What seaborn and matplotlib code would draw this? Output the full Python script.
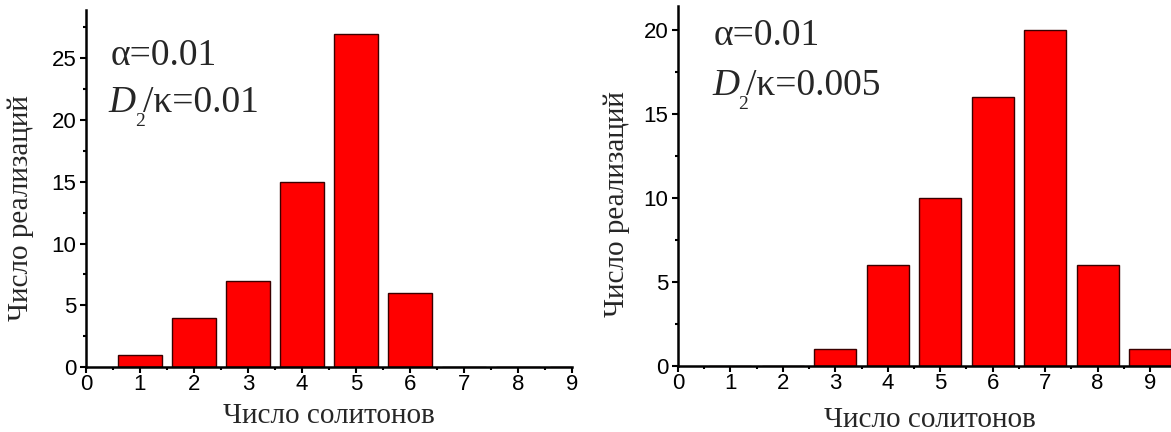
import numpy as np
import pandas as pd
import matplotlib
matplotlib.use("Agg")
import matplotlib.pyplot as plt
from matplotlib.ticker import MultipleLocator
import seaborn as sns

solitons = [1, 2, 3, 4, 5, 6, 7, 8, 9]
counts_left = [1, 4, 7, 15, 27, 6, 0, 0, 0]
counts_right = [0, 0, 1, 6, 10, 16, 20, 6, 1]
alpha_label = "α=0.01"
ratio_left = "/κ=0.01"
ratio_right = "/κ=0.005"

sns.set_style("ticks")
plt.rcParams["font.family"] = ["Liberation Sans", "DejaVu Sans"]

serif = ["Liberation Serif", "DejaVu Serif"]

fig = plt.figure(figsize=(11.71, 4.32), dpi=100)
ax1 = fig.add_axes([0.0734, 0.1505, 0.415, 0.826])
ax2 = fig.add_axes([0.579, 0.153, 0.421, 0.833])
renderer = fig.canvas.get_renderer()

panels = [
    (ax1, counts_left, ratio_left, (0, 9), (0, 28.9),
     (0.047, 0.846, 0.714), (-0.135, 0.445), (0.5, -0.137)),
    (ax2, counts_right, ratio_right, (0, 9.4), (0, 21.4),
     (0.069, 0.892, 0.753), (-0.125, 0.45), (0.51, -0.15)),
]


def d2_label(ax, x, y, rest):
    # italic D, lowered small 2, then the rest of the label
    t1 = ax.text(x, y, "D", transform=ax.transAxes, family=serif,
                 style="italic", fontsize=27, va="baseline", ha="left")
    bb = t1.get_window_extent(renderer)
    x0, y0 = ax.transAxes.transform((x, y))
    t2 = fig.text(bb.x1 - 1, y0 - 14, "2", transform=None, family=serif,
                  fontsize=14, va="baseline", ha="left")
    bb2 = t2.get_window_extent(renderer)
    fig.text(bb2.x1 - 2, y0, rest, transform=None, family=serif,
             fontsize=27, va="baseline", ha="left")


for ax, counts, rest, xlim, ylim, tpos, ylab, xlab in panels:
    df = pd.DataFrame({"n": solitons, "count": counts})
    sns.barplot(data=df, x="n", y="count", native_scale=True, ax=ax,
                color="#ff0000", saturation=1, edgecolor="#3a0000",
                linewidth=1.0, width=0.8)
    ax.set_xlim(*xlim)
    ax.set_ylim(*ylim)
    ax.xaxis.set_major_locator(MultipleLocator(1))
    ax.xaxis.set_minor_locator(MultipleLocator(0.5))
    ax.yaxis.set_major_locator(MultipleLocator(5))
    ax.yaxis.set_minor_locator(MultipleLocator(2.5))
    ax.tick_params(which="major", direction="out", length=4, width=1.5,
                   labelsize=16, color="black", labelcolor="black")
    ax.tick_params(axis="y", which="major", pad=3)
    ax.tick_params(axis="x", which="major", pad=1)
    ax.tick_params(which="minor", direction="out", length=2.5, width=1.5,
                   color="black")
    for side in ["top", "right"]:
        ax.spines[side].set_visible(False)
    for side in ["left", "bottom"]:
        ax.spines[side].set_linewidth(1.8)
        ax.spines[side].set_color("black")

    ax.set_xlabel("Число солитонов", family=serif, fontsize=21)
    ax.set_ylabel("Число реализаций", family=serif, fontsize=21)
    ax.xaxis.label.set_va("center")
    ax.yaxis.label.set_va("center")
    ax.xaxis.set_label_coords(*xlab)
    ax.yaxis.set_label_coords(*ylab)

    ax.text(tpos[0] + 0.004, tpos[1], alpha_label, transform=ax.transAxes,
            family=serif, fontsize=27, va="baseline", ha="left")
    d2_label(ax, tpos[0], tpos[2], rest)

fig.savefig("out.png", dpi=100)
